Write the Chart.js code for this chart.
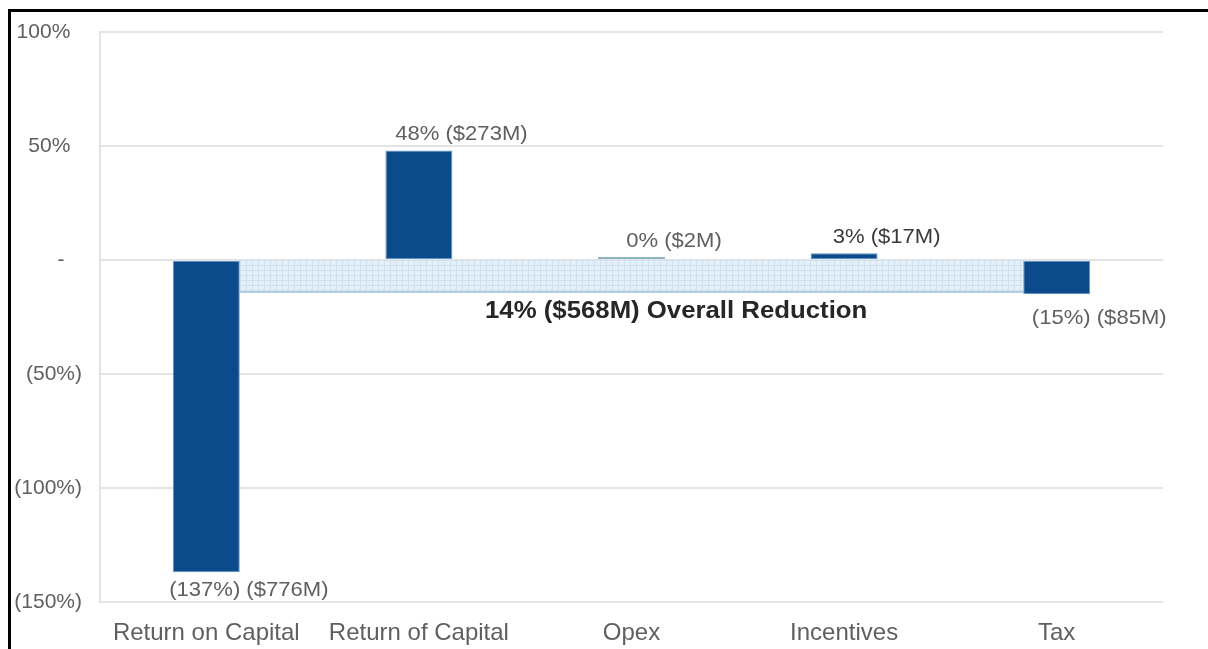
<!DOCTYPE html>
<html>
<head>
<meta charset="utf-8">
<script src="https://cdn.jsdelivr.net/npm/chart.js@4.4.1/dist/chart.umd.min.js"></script>
<style>
  html, body { margin: 0; padding: 0; background: #fff; }
  #wrap { position: relative; width: 1208px; height: 649px; }
  #frame { position: absolute; left: 8px; top: 9px; right: -4px; bottom: -4px;
           border-top: 3px solid #000; border-left: 3px solid #000; pointer-events: none; }
  canvas { display: block; }
</style>
</head>
<body>
<div id="wrap">
  <canvas id="c" width="1208" height="649"></canvas>
  <div id="frame"></div>
</div>
<script>
// Cost drivers and their change (% of total, and $M)
const categories = ['Return on Capital', 'Return of Capital', 'Opex', 'Incentives', 'Tax'];
const changePct = [-137, 48, 0.35, 3, -15];
const changeUsdM = [-776, 273, 2, 17, -85];
// Net effect across all drivers
const overallPct = -14;
const overallUsdM = -568;
// Y axis ticks
const yTicks = [100, 50, 0, -50, -100, -150];

const FONT = '"Liberation Sans", Arial, Helvetica, sans-serif';
const BAR_DARK = '#0b4a8b';
const BAR_LIGHT = '#8fb3c6';

function fmtPct(v) {
  const r = Math.round(v);
  return r < 0 ? '(' + Math.abs(r) + '%)' : r + '%';
}
function fmtUsd(v) {
  return v < 0 ? '($' + Math.abs(v) + 'M)' : '($' + v + 'M)';
}

// text drawn slightly widened around its centre
function wideText(ctx, txt, cx, cy, sx) {
  ctx.save();
  ctx.translate(cx, cy);
  ctx.scale(sx, 1);
  ctx.fillText(txt, 0, 0);
  ctx.restore();
}

// light blue grid-hatched fill for the overall-reduction band
function makeHatch(ctx) {
  const t = document.createElement('canvas');
  t.width = 6; t.height = 5;
  const g = t.getContext('2d');
  g.fillStyle = '#e6f0f8';
  g.fillRect(0, 0, 6, 5);
  g.fillStyle = '#cfe1ef';
  g.fillRect(0, 0, 6, 1);
  g.fillRect(0, 0, 1, 5);
  return ctx.createPattern(t, 'repeat');
}

const bandPlugin = {
  id: 'overallBand',
  beforeDatasetsDraw(chart) {
    const { ctx, scales: { y } } = chart;
    const bars = chart.getDatasetMeta(0).data;
    const first = bars[0], last = bars[bars.length - 1];
    const x0 = first.x + first.width / 2;
    const x1 = last.x - last.width / 2;
    const yTop = y.getPixelForValue(0);
    const yBot = y.getPixelForValue(overallPct);
    ctx.save();
    ctx.fillStyle = makeHatch(ctx);
    ctx.fillRect(x0, yTop, x1 - x0, yBot - yTop);
    ctx.strokeStyle = '#9cc0dc';
    ctx.lineWidth = 1.5;
    ctx.beginPath();
    ctx.moveTo(x0, yBot);
    ctx.lineTo(x1, yBot);
    ctx.stroke();
    ctx.restore();
  },
  afterDatasetsDraw(chart) {
    const { ctx, scales: { x, y } } = chart;
    const bars = chart.getDatasetMeta(0).data;
    const catW = x.getPixelForValue(1) - x.getPixelForValue(0);
    ctx.save();
    ctx.textAlign = 'center';
    ctx.textBaseline = 'middle';
    // value labels beside each bar
    bars.forEach((b, i) => {
      const v = changePct[i];
      const txt = fmtPct(v) + ' ' + fmtUsd(changeUsdM[i]);
      const cx = b.x + catW * 0.2;
      const top = Math.min(b.y, b.base), bot = Math.max(b.y, b.base);
      const cy = v >= 0 ? top - 16 : bot + (i === bars.length - 1 ? 24 : 18);
      ctx.font = '21px ' + FONT;
      ctx.fillStyle = i === 3 ? '#3a3a3a' : '#5f5f5f';
      wideText(ctx, txt, cx, cy, 1.05);
    });
    // overall reduction caption
    const mid = bars[2];
    ctx.font = 'bold 23px ' + FONT;
    ctx.fillStyle = '#262626';
    wideText(ctx, Math.abs(overallPct) + '% ($' + Math.abs(overallUsdM) + 'M) Overall Reduction',
      mid.x + catW * 0.21, y.getPixelForValue(overallPct) + 20, 1.12);
    ctx.restore();
  }
};

new Chart(document.getElementById('c'), {
  type: 'bar',
  data: {
    labels: categories,
    datasets: [{
      data: changePct,
      backgroundColor: changePct.map(v => Math.abs(v) < 1 ? BAR_LIGHT : BAR_DARK),
      borderColor: changePct.map(v => Math.abs(v) < 1 ? BAR_LIGHT : '#5f96c8'),
      borderWidth: 1,
      borderSkipped: false,
      barPercentage: 0.315,
      categoryPercentage: 1,
      minBarLength: 3
    }]
  },
  options: {
    responsive: false,
    animation: false,
    events: [],
    layout: { padding: { top: 32, right: 45, bottom: 0, left: 0 } },
    plugins: { legend: { display: false }, tooltip: { enabled: false } },
    scales: {
      x: {
        grid: { display: false },
        border: { display: false },
        ticks: { color: '#5f5f5f', font: { family: FONT, size: 24 }, padding: 9, maxRotation: 0 },
        afterFit(s) { s.height = 47; }
      },
      y: {
        min: -150, max: 100,
        afterBuildTicks(s) { s.ticks = yTicks.map(v => ({ value: v })); },
        grid: { color: '#e4e4e4', lineWidth: 2, drawTicks: false },
        border: { display: true, color: '#e4e4e4', width: 2 },
        ticks: {
          color: '#5f5f5f',
          font: { family: FONT, size: 21 },
          padding: 18,
          callback(v) {
            if (v === 0) return '-   ';
            return v > 0 ? v + '%  ' : '(' + Math.abs(v) + '%)';
          }
        },
        afterFit(s) { s.width = 100; }
      }
    }
  },
  plugins: [bandPlugin]
});
</script>
</body>
</html>
